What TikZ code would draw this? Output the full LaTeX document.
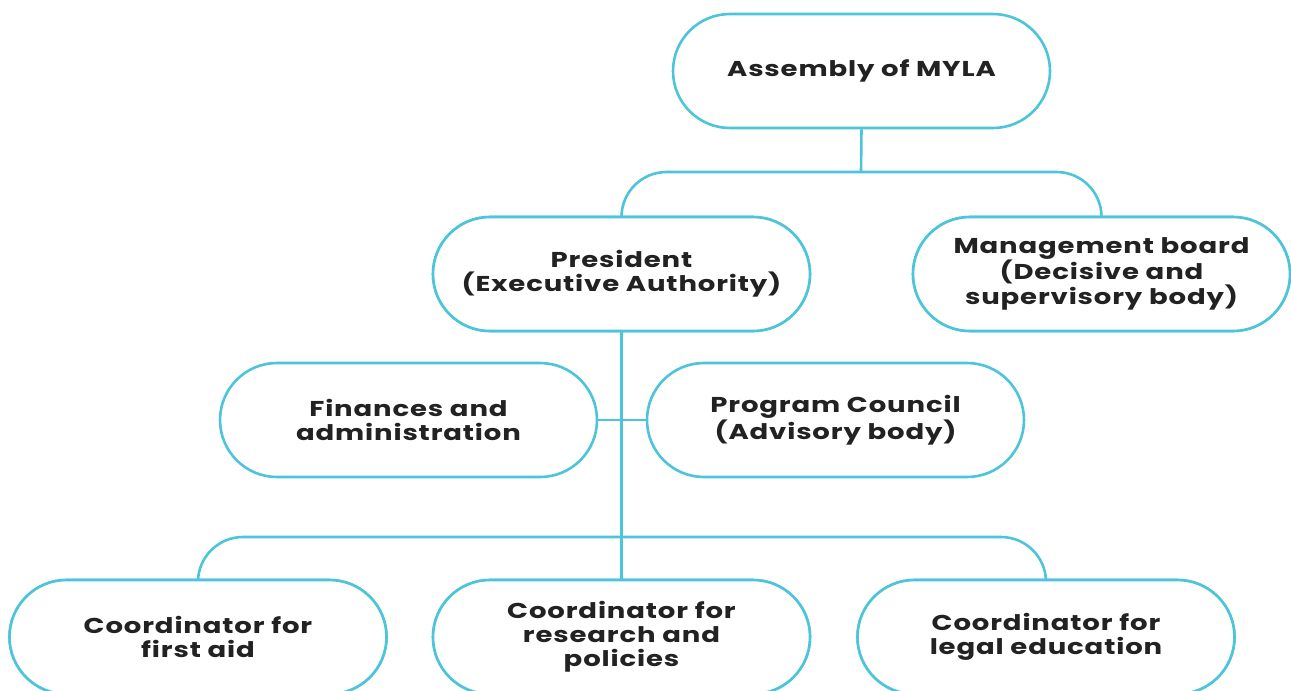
\documentclass[tikz,border=0pt]{standalone}
\usepackage{fontspec}
\setmainfont{Poppins}[FakeStretch=1.28, LetterSpace=4]
\definecolor{linecol}{HTML}{4CC4DA}
\definecolor{txtcol}{HTML}{222222}
\begin{document}
\begin{tikzpicture}[x=1pt,y=-1pt,
  box/.style={draw=linecol, line width=2.6pt, fill=white, rounded corners=57pt,
    minimum width=377pt, minimum height=114pt, inner sep=0pt,
    align=center, text=txtcol, font=\bfseries\fontsize{21.5}{24}\selectfont},
  conn/.style={draw=linecol, line width=2.6pt}]
\useasboundingbox (0,0) rectangle (1291,691);
\clip (0,0) rectangle (1291,691);
% connectors
\coordinate (h1) at (861,172);
\coordinate (h2) at (621,537);
\node[box] (asm) at (861.5,71) {Assembly of MYLA};
\node[box] (pres) at (621.5,274) {President\\(Executive Authority)};
\node[box] (mgmt) at (1101.5,274) {Management board\\(Decisive and\\supervisory body)};
\draw[conn] (asm.south) -- (h1);
\draw[conn, rounded corners=45pt] (pres.north) |- (h1) -| (mgmt.north);
\node[box] (fin) at (408.5,420) {Finances and\\administration};
\node[box] (prog) at (835.5,420) {Program Council\\(Advisory body)};
\node[box] (c1) at (198,637) {Coordinator for\\first aid};
\node[box] (c2) at (621.5,637) {Coordinator for\\research and\\policies};
\node[box] (c3) at (1046,637) {Coordinator for\\legal education};
\draw[conn] (pres.south) -- (c2.north);
\draw[conn] (fin.east) -- (prog.west);
\draw[conn, rounded corners=45pt] (c1.north) |- (h2) -| (c3.north);
% redraw boxes on top of connectors
\node[box] at (621.5,274) {President\\(Executive Authority)};
\node[box] at (1101.5,274) {Management board\\(Decisive and\\supervisory body)};
\node[box] at (198,637) {Coordinator for\\first aid};
\node[box] at (621.5,637) {Coordinator for\\research and\\policies};
\node[box] at (1046,637) {Coordinator for\\legal education};
\end{tikzpicture}
\end{document}
